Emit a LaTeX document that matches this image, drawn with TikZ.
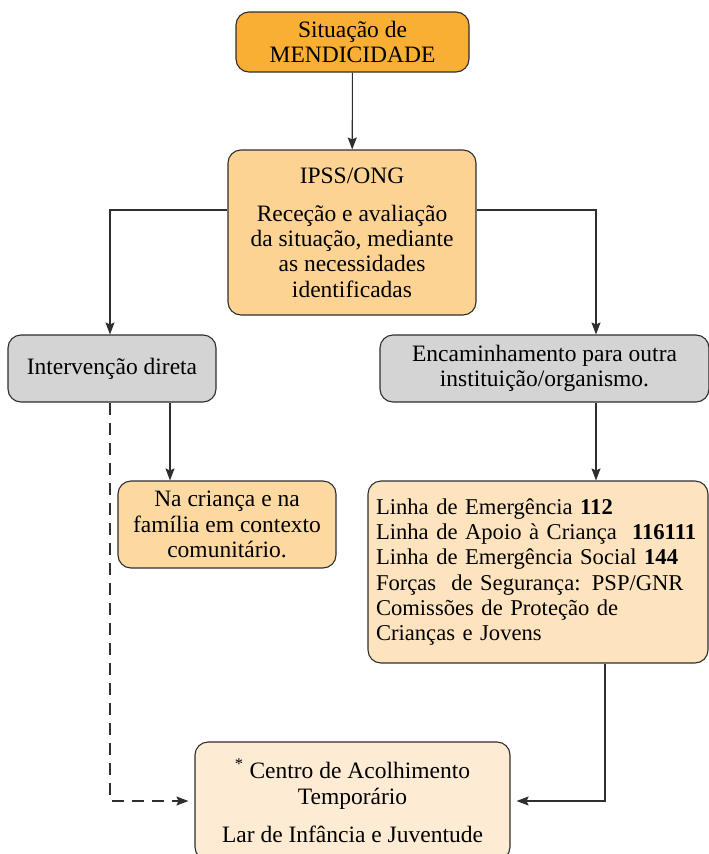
\documentclass[tikz,border=0pt]{standalone}
\usepackage{fontspec}
\setmainfont{Liberation Serif}
\usetikzlibrary{arrows.meta,positioning}
\definecolor{topcol}{HTML}{F9AE34}
\definecolor{ipsscol}{HTML}{FDD394}
\definecolor{graycol}{HTML}{D4D4D5}
\definecolor{criancacol}{HTML}{FDD9A2}
\definecolor{linhacol}{HTML}{FEE3BF}
\definecolor{larcol}{HTML}{FEEBD3}
\definecolor{edgecol}{HTML}{2E2E2E}
\tikzset{
  box/.style={draw=edgecol,line width=1.1pt,rounded corners=13pt,align=center,
    inner sep=4pt,font=\fontsize{23.5}{25.3}\selectfont},
  arr/.style={draw=edgecol,line width=1.1pt,-{Stealth[length=12pt,width=9pt,inset=2pt]}},
}
\begin{document}
\begin{tikzpicture}[x=1pt,y=-1pt]
  \useasboundingbox (0,0) rectangle (709,854);
  \node[box,fill=topcol,minimum width=233pt,minimum height=60pt] (sit) at (352.5,42)
    {Situação de\\MENDICIDADE};
  \node[box,fill=ipsscol,minimum width=248pt,minimum height=165pt] (ipss) at (352,232.5)
    {IPSS/ONG\\[13pt]Receção e avaliação\\da situação, mediante\\as necessidades\\identificadas};
  \node[box,fill=graycol,minimum width=208pt,minimum height=67pt] (inter) at (112,368.5)
    {Intervenção direta};
  \node[box,fill=graycol,minimum width=329pt,minimum height=67pt] (enc) at (544.5,368.5)
    {Encaminhamento para outra\\instituição/organismo.};
  \node[box,fill=criancacol,minimum width=218pt,minimum height=87pt] (crianca) at (227,524.5)
    {Na criança e na\\família em contexto\\comunitário.};
  \node[box,fill=linhacol,minimum width=340pt,minimum height=182pt,align=left,
    inner xsep=8pt,text width=324pt,font=\fontsize{22.6}{25.3}\selectfont] (linha) at (538,572)
    {\mbox{Linha de Emergência \textbf{112}}\\
     \mbox{Linha de Apoio à Criança\ \ \textbf{116111}}\\
     \mbox{Linha de Emergência Social \textbf{144}}\\
     \mbox{Forças\ \ de Segurança: PSP/GNR}\\
     \mbox{Comissões de Proteção de}\\
     \mbox{Crianças e Jovens}\\[22pt]};
  \node[box,fill=larcol,minimum width=315pt,minimum height=118pt] (lar) at (352.5,801)
    {\textsuperscript{*} Centro de Acolhimento\\Temporário\\[13pt]Lar de Infância e Juventude};
  %% connectors
  \draw[arr] (sit) -- (ipss);
  \draw[arr] (ipss.west |- 0,210) -| (inter.north -| 110,0);
  \draw[arr] (ipss.east |- 0,210) -| (enc.north -| 596,0);
  \draw[arr] (inter.south -| 170,0) -- (crianca.north -| 170,0);
  \draw[arr] (enc.south -| 596,0) -- (linha.north -| 596,0);
  \draw[arr,dashed,dash pattern=on 12pt off 8pt] (inter.south -| 110,0) |- ([xshift=-6pt]lar.west);
  \draw[arr] (linha.south -| 605,0) |- ([xshift=6pt]lar.east);
\end{tikzpicture}
\end{document}
